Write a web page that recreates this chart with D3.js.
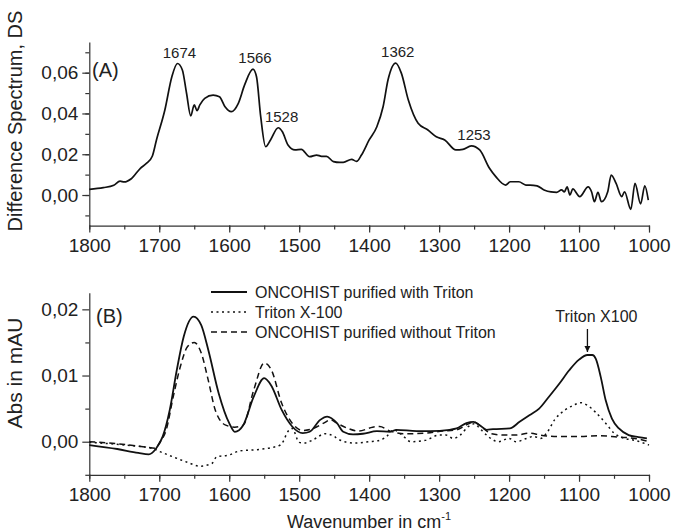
<!DOCTYPE html>
<html>
<head>
<meta charset="utf-8">
<script src="https://cdn.jsdelivr.net/npm/d3@7"></script>
<style>
  body { margin: 0; background: #fff; }
  svg text { font-family: "Liberation Sans", Arial, sans-serif; fill: #222; }
</style>
</head>
<body>
<script>
// panel A: difference spectrum
let wnA = [1800, 1780, 1765, 1756, 1750, 1740, 1727, 1718, 1710, 1704, 1692, 1682, 1674, 1667, 1661, 1655, 1650, 1646, 1642, 1635, 1623, 1614, 1606, 1597, 1587, 1578, 1566, 1561, 1555, 1548, 1541, 1530, 1524, 1516, 1506, 1497, 1485, 1475, 1468, 1461, 1451, 1442, 1437, 1425, 1418, 1411, 1400, 1389, 1380, 1373, 1362, 1354, 1344, 1330, 1316, 1304, 1292, 1276, 1266, 1254, 1242, 1228, 1219, 1205, 1198, 1186, 1176, 1170, 1160, 1150, 1140, 1132, 1125, 1121, 1117, 1113, 1109, 1099, 1087, 1082, 1078, 1073, 1068, 1059, 1054, 1047, 1039, 1035, 1026, 1020, 1012, 1006, 1001];
let dsA = [0.0028, 0.0036, 0.0048, 0.0068, 0.0064, 0.008, 0.0131, 0.0156, 0.019, 0.027, 0.0417, 0.058, 0.0645, 0.0613, 0.0499, 0.0388, 0.0442, 0.0414, 0.0442, 0.0474, 0.049, 0.0482, 0.0433, 0.0409, 0.045, 0.054, 0.0617, 0.058, 0.0384, 0.0237, 0.027, 0.033, 0.031, 0.0245, 0.0221, 0.0224, 0.0188, 0.0196, 0.019, 0.019, 0.0164, 0.016, 0.016, 0.0175, 0.0165, 0.0196, 0.027, 0.0335, 0.0434, 0.0565, 0.0647, 0.0598, 0.0466, 0.0352, 0.0319, 0.0286, 0.027, 0.0221, 0.0224, 0.0241, 0.0221, 0.0131, 0.009, 0.0049, 0.0065, 0.0065, 0.0049, 0.0049, 0.0045, 0.0025, 0.0015, 0.0013, 0.0025, 0.0015, 0.004, 0.0, 0.003, -0.0008, 0.004, 0.0015, -0.0033, 0.0013, -0.0033, 0.0016, 0.0098, 0.0057, -0.0008, 0.0016, -0.007, 0.0057, -0.0043, 0.0045, -0.0025];
let peaksA = [1674, 1566, 1528, 1362, 1253];
let peakValsA = [0.0645, 0.0617, 0.033, 0.0647, 0.0241];

// panel B: three absorbance spectra
let wnSolid = [1800, 1760, 1730, 1715, 1705, 1695, 1685, 1675, 1665, 1651, 1640, 1630, 1615, 1600, 1592, 1580, 1565, 1550, 1540, 1525, 1510, 1495, 1485, 1470, 1460, 1446, 1437, 1423, 1409, 1389, 1370, 1361, 1332, 1313, 1285, 1275, 1261, 1251, 1242, 1232, 1223, 1199, 1185, 1171, 1157, 1143, 1128, 1114, 1100, 1088, 1081, 1076, 1069, 1062, 1053, 1043, 1029, 1015, 1003];
let absSolid = [-0.0005, -0.0011, -0.0017, -0.0019, -0.0011, 0.0008, 0.0048, 0.0108, 0.0159, 0.0189, 0.0176, 0.0139, 0.0073, 0.0028, 0.0015, 0.0025, 0.0068, 0.0096, 0.0085, 0.0048, 0.0023, 0.0013, 0.0015, 0.0033, 0.0038, 0.0028, 0.0015, 0.0011, 0.0012, 0.0016, 0.0015, 0.0018, 0.0016, 0.0016, 0.0018, 0.002, 0.0028, 0.003, 0.0025, 0.0018, 0.0019, 0.002, 0.003, 0.004, 0.005, 0.0068, 0.0088, 0.0108, 0.0124, 0.0131, 0.0131, 0.0125, 0.0098, 0.0063, 0.0035, 0.002, 0.001, 0.0007, 0.0005];
let wnTriton = [1800, 1750, 1710, 1699, 1680, 1660, 1642, 1625, 1618, 1600, 1585, 1560, 1540, 1527, 1522, 1518, 1510, 1500, 1492, 1480, 1463, 1450, 1446, 1435, 1420, 1400, 1385, 1375, 1365, 1355, 1340, 1320, 1300, 1290, 1280, 1270, 1258, 1250, 1240, 1230, 1215, 1200, 1190, 1175, 1165, 1155, 1145, 1135, 1120, 1108, 1098, 1088, 1075, 1062, 1050, 1035, 1020, 1000];
let absTriton = [-0.0001, -0.0005, -0.001, -0.0015, -0.0023, -0.0031, -0.0037, -0.0033, -0.0023, -0.002, -0.0014, -0.0012, -0.0009, -0.0005, 0.0002, 0.0012, 0.002, -0.0001, -0.0002, 0.0003, 0.0012, 0.0008, 0.0005, 0.0, -0.0002, 0.0, 0.0002, 0.0008, 0.0018, 0.0012, 0.0, 0.0002, 0.001, 0.001, 0.0005, 0.001, 0.0023, 0.0027, 0.0018, 0.0008, 0.0, 0.0005, 0.0, 0.0005, 0.0008, 0.0005, 0.0015, 0.0033, 0.0048, 0.0055, 0.0059, 0.0055, 0.0043, 0.0028, 0.0013, 0.0005, 0.0002, -0.0005];
let wnNoTriton = [1800, 1760, 1720, 1705, 1700, 1690, 1680, 1670, 1660, 1650, 1640, 1630, 1620, 1605, 1592, 1580, 1565, 1550, 1540, 1525, 1510, 1495, 1480, 1465, 1455, 1446, 1430, 1415, 1395, 1385, 1370, 1350, 1320, 1295, 1275, 1258, 1250, 1240, 1225, 1205, 1190, 1170, 1155, 1130, 1100, 1070, 1045, 1020, 1000];
let absNoTriton = [0.0, -0.0003, -0.0008, -0.001, -0.0002, 0.0018, 0.0068, 0.0113, 0.0143, 0.015, 0.0134, 0.0093, 0.0048, 0.0025, 0.0022, 0.0025, 0.0078, 0.0119, 0.0109, 0.0058, 0.0028, 0.0017, 0.002, 0.0028, 0.0033, 0.0028, 0.002, 0.0016, 0.0022, 0.0023, 0.0016, 0.0012, 0.0013, 0.0016, 0.0018, 0.0027, 0.003, 0.0023, 0.0012, 0.001, 0.001, 0.0013, 0.001, 0.0008, 0.0008, 0.0009, 0.0007, 0.0005, 0.0];

let legendLabels = ["ONCOHIST purified with Triton", "Triton X-100", "ONCOHIST purified without Triton"];
let dashes = [null, "2,3.5", "6,4"];

let xTicks = [1800, 1700, 1600, 1500, 1400, 1300, 1200, 1100, 1000];
let yTicksA = [0, 0.02, 0.04, 0.06];
let yTicksB = [0, 0.01, 0.02];

let width = 673, height = 532;
let svg = d3.select("body").append("svg")
    .attr("width", width).attr("height", height);

let x = d3.scaleLinear().domain([1800, 1000]).range([89.3, 649]);
let yA = d3.scaleLinear().domain([-0.015, 0.075]).range([225.6, 42.1]);
let yB = d3.scaleLinear().domain([-0.005, 0.0225]).range([474.8, 292.8]);

let comma = function (f) {
    return function (v) { return d3.format(f)(v).replace(".", ","); };
};

function drawAxes(y, yTicks, yMinor, fmt) {
    let g = svg.append("g");
    // minor ticks first, then major ones on top
    g.append("g")
        .attr("transform", "translate(0," + y.range()[0] + ")")
        .call(d3.axisBottom(x).tickValues(d3.range(1800, 999, -50)).tickSize(4).tickFormat(""))
        .call(a => a.select(".domain").remove());
    g.append("g")
        .attr("transform", "translate(" + x.range()[0] + ",0)")
        .call(d3.axisLeft(y).tickValues(yMinor).tickSize(4).tickFormat(""))
        .call(a => a.select(".domain").remove());
    g.append("g")
        .attr("transform", "translate(0," + y.range()[0] + ")")
        .call(d3.axisBottom(x).tickValues(xTicks).tickSize(7).tickPadding(6).tickSizeOuter(0).tickFormat(d3.format("d")));
    g.append("g")
        .attr("transform", "translate(" + x.range()[0] + ",0)")
        .call(d3.axisLeft(y).tickValues(yTicks).tickSize(7).tickPadding(4).tickSizeOuter(0).tickFormat(comma(fmt)));
    g.selectAll("text").style("font-size", "19px").attr("fill", "#222");
    g.selectAll("line, path").attr("stroke", "#333").attr("stroke-width", 1.2);
    return g;
}

drawAxes(yA, yTicksA, d3.range(-0.01, 0.075, 0.01), ".2f");
drawAxes(yB, yTicksB, [-0.005, 0.005, 0.015], ".2f");

let lineA = d3.line().x((d, i) => x(wnA[i])).y(d => yA(d)).curve(d3.curveMonotoneX);
svg.append("path").datum(dsA)
    .attr("d", lineA)
    .attr("fill", "none").attr("stroke", "#111").attr("stroke-width", 1.7);

// peak labels
svg.selectAll(".peak").data(peaksA).enter().append("text")
    .attr("class", "peak")
    .attr("x", d => x(d) + 2)
    .attr("y", (d, i) => yA(peakValsA[i]) - 6)
    .attr("text-anchor", "middle")
    .style("font-size", "15px")
    .text(d => d);

svg.append("text").attr("x", 92).attr("y", 77).style("font-size", "20px").text("(A)");
svg.append("text").attr("x", 96).attr("y", 323).style("font-size", "20px").text("(B)");

let seriesB = [[wnSolid, absSolid], [wnTriton, absTriton], [wnNoTriton, absNoTriton]];
seriesB.forEach(function (s, k) {
    let ln = d3.line().x((d, i) => x(s[0][i])).y(d => yB(d)).curve(d3.curveMonotoneX);
    svg.append("path").datum(s[1])
        .attr("d", ln)
        .attr("fill", "none").attr("stroke", "#111")
        .attr("stroke-width", k === 0 ? 1.8 : 1.5)
        .attr("stroke-dasharray", dashes[k]);
});

// legend
let legend = svg.append("g").attr("transform", "translate(211,292)");
legendLabels.forEach(function (t, i) {
    legend.append("line")
        .attr("x1", 0).attr("x2", 36).attr("y1", i * 20).attr("y2", i * 20)
        .attr("stroke", "#111").attr("stroke-width", i === 0 ? 1.8 : 1.5)
        .attr("stroke-dasharray", dashes[i]);
    legend.append("text")
        .attr("x", 44).attr("y", i * 20 + 5.5)
        .style("font-size", "16px").text(t);
});

// Triton X100 annotation with arrow
let tritonPeak = 1088;
svg.append("defs").append("marker")
    .attr("id", "arrow").attr("viewBox", "0 0 10 10")
    .attr("refX", 10).attr("refY", 5)
    .attr("markerWidth", 5).attr("markerHeight", 5)
    .attr("orient", "auto")
    .append("path").attr("d", "M0,0L10,5L0,10Z").attr("fill", "#111");
svg.append("line")
    .attr("x1", x(tritonPeak)).attr("x2", x(tritonPeak))
    .attr("y1", 329).attr("y2", 352)
    .attr("stroke", "#111").attr("stroke-width", 1.3)
    .attr("marker-end", "url(#arrow)");
svg.append("text")
    .attr("x", x(tritonPeak) + 9).attr("y", 322)
    .attr("text-anchor", "middle")
    .style("font-size", "16px").text("Triton X100");

// axis titles
svg.append("text")
    .attr("transform", "translate(22,121) rotate(-90)")
    .attr("text-anchor", "middle")
    .style("font-size", "20px")
    .text("Difference Spectrum, DS");
svg.append("text")
    .attr("transform", "translate(22,373) rotate(-90)")
    .attr("text-anchor", "middle")
    .style("font-size", "21px")
    .text("Abs in mAU");
let xt = svg.append("text")
    .attr("x", 369).attr("y", 528)
    .attr("text-anchor", "middle")
    .style("font-size", "18px");
xt.append("tspan").text("Wavenumber in cm");
xt.append("tspan").attr("dy", -8).style("font-size", "11px").text("-1");
</script>
</body>
</html>
